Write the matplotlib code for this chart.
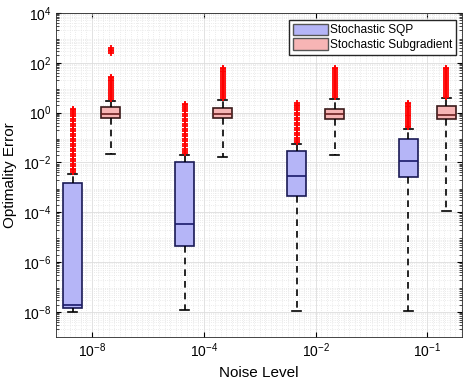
import numpy as np
import matplotlib
matplotlib.use('Agg')
import matplotlib.pyplot as plt
from matplotlib.patches import Patch
from matplotlib.ticker import LogLocator, NullFormatter, MultipleLocator, FixedLocator

plt.rcParams['font.family'] = ['Liberation Sans', 'DejaVu Sans']
plt.rcParams['mathtext.fontset'] = 'custom'
plt.rcParams['mathtext.rm'] = 'Liberation Sans'
plt.rcParams['mathtext.it'] = 'Liberation Sans'

noise_labels = ['$10^{-8}$', '$10^{-4}$', '$10^{-2}$', '$10^{-1}$']

# box statistics, log10 of optimality error: [whislo, q1, med, q3, whishi]
sqp_stats = [
    [-8.00, -7.83, -7.72, -2.84, -2.47],
    [-7.92, -5.36, -4.47, -2.00, -1.70],
    [-7.95, -3.36, -2.55, -1.56, -1.25],
    [-7.95, -2.59, -1.95, -1.05, -0.64],
]
sub_stats = [
    [-1.65, -0.23, -0.05, 0.21, 0.48],
    [-1.80, -0.23, -0.05, 0.20, 0.50],
    [-1.72, -0.25, -0.05, 0.15, 0.55],
    [-3.95, -0.25, -0.08, 0.28, 0.57],
]
# outliers (log10)
sqp_fliers = [
    [-2.40, -2.32, -2.25, -2.15, -2.05, -1.95, -1.85, -1.75, -1.65, -1.55, -1.45,
     -1.35, -1.25, -1.15, -1.05, -0.95, -0.85, -0.75, -0.65, -0.55, -0.45, -0.35,
     -0.25, -0.15, -0.05, 0.03, 0.10, 0.15],
    [-1.62, -1.55, -1.45, -1.35, -1.25, -1.15, -1.05, -0.95, -0.85, -0.75, -0.65,
     -0.55, -0.45, -0.35, -0.25, -0.15, -0.05, 0.05, 0.15, 0.22, 0.30, 0.35],
    [-1.18, -1.10, -1.00, -0.90, -0.80, -0.70, -0.60, -0.50, -0.40, -0.30, -0.20,
     -0.10, 0.00, 0.10, 0.18, 0.26, 0.32, 0.37],
    [-0.58, -0.52, -0.45, -0.38, -0.30, -0.22, -0.15, -0.08, 0.00, 0.08, 0.15,
     0.22, 0.28, 0.33, 0.37],
]
sub_fliers = [
    [0.55, 0.62, 0.70, 0.78, 0.86, 0.94, 1.02, 1.10, 1.18, 1.26, 1.32, 1.38, 1.42,
     2.40, 2.47, 2.53, 2.60],
    [0.57, 0.65, 0.73, 0.81, 0.89, 0.97, 1.05, 1.13, 1.21, 1.29, 1.37, 1.45, 1.53,
     1.61, 1.68, 1.74, 1.80],
    [0.62, 0.70, 0.78, 0.86, 0.94, 1.02, 1.10, 1.18, 1.26, 1.34, 1.42, 1.50, 1.58,
     1.66, 1.73, 1.80],
    [0.64, 0.72, 0.80, 0.88, 0.96, 1.04, 1.12, 1.20, 1.28, 1.36, 1.44, 1.52, 1.60,
     1.67, 1.74, 1.80],
]

def make_stats(rows, fliers):
    out = []
    for r, f in zip(rows, fliers):
        lo, q1, med, q3, hi = [10.0 ** v for v in r]
        out.append(dict(whislo=lo, q1=q1, med=med, q3=q3, whishi=hi,
                        fliers=10.0 ** np.array(f)))
    return out

fig = plt.figure(figsize=(4.64, 3.79), dpi=100)
ax = fig.add_axes([0.121, 0.111, 0.875, 0.855])

pos = np.arange(1, 5)
blue_face = '#b5b5f7'
blue_edge = '#1a1a55'
red_face = '#f7b5b5'
red_edge = '#3a1a1a'

def draw(stats, p, face, edge, med_col):
    ax.bxp(stats, positions=p, widths=0.17, patch_artist=True,
           boxprops=dict(facecolor=face, edgecolor=edge, linewidth=1.2),
           medianprops=dict(color=med_col, linewidth=1.2),
           whiskerprops=dict(color='black', linestyle=(0, (4, 3)), linewidth=1.2),
           capprops=dict(color='black', linewidth=1.2),
           capwidths=0.08,
           flierprops=dict(marker='+', markeredgecolor='red', markersize=5,
                           markeredgewidth=1.3, linestyle='none'),
           manage_ticks=False)

draw(make_stats(sqp_stats, sqp_fliers), pos - 0.17, blue_face, blue_edge, '#1a1a6a')
draw(make_stats(sub_stats, sub_fliers), pos + 0.17, red_face, red_edge, '#6a2020')

ax.set_yscale('log')
ax.set_ylim(1e-9, 1e4)
ax.set_xlim(0.68, 4.31)
ax.yaxis.set_major_locator(FixedLocator([1e-8, 1e-6, 1e-4, 1e-2, 1e0, 1e2, 1e4]))
ax.yaxis.set_minor_locator(LogLocator(base=10, subs=np.arange(2, 10), numticks=30))
ax.yaxis.set_minor_formatter(NullFormatter())
ax.set_xticks(pos)
ax.set_xticklabels(noise_labels)
ax.xaxis.set_minor_locator(MultipleLocator(0.05))

ax.grid(True, which='major', color='#dddddd', linewidth=0.6)
ax.grid(True, which='minor', color='#e4e4e4', linestyle=':', linewidth=0.6)
ax.set_axisbelow(True)
ax.tick_params(which='both', direction='in', top=True, right=True, labelsize=10)
ax.tick_params(axis='x', which='minor', length=0)
ax.tick_params(axis='y', which='minor', length=2, width=0.5)
for s in ax.spines.values():
    s.set_color('#262626')
    s.set_linewidth(0.6)

ax.set_xlabel('Noise Level', fontsize=11)
ax.set_ylabel('Optimality Error', fontsize=11)

handles = [Patch(facecolor=blue_face, edgecolor='#555555', label='Stochastic SQP'),
           Patch(facecolor=red_face, edgecolor='#555555', label='Stochastic Subgradient')]
ax.legend(handles=handles, loc='upper right', fontsize=8.6, fancybox=False,
          edgecolor='#262626', framealpha=1, handlelength=2.9, handleheight=1.1,
          borderpad=0.3, labelspacing=0.15, handletextpad=0.2, borderaxespad=0,
          bbox_to_anchor=(0.985, 0.978))

fig.savefig('out.png', dpi=100)
